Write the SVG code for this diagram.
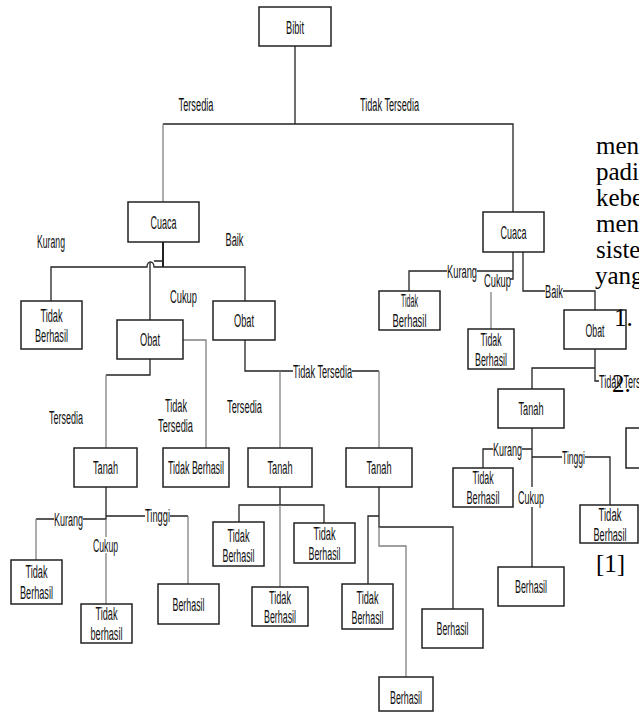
<svg xmlns="http://www.w3.org/2000/svg" width="639" height="713" viewBox="0 0 639 713">
<style>
.t{font-family:"Liberation Sans",Arial,sans-serif;font-size:18px;fill:#111;text-anchor:middle}
.st{text-anchor:start}
.sf{font-family:"Liberation Serif","Times New Roman",serif;font-size:25px;fill:#000}
.box{fill:#fff;stroke:#222;stroke-width:1.5}
.ln{fill:none;stroke:#222;stroke-width:1.3}
.gr{stroke:#808080}
</style>
<rect width="639" height="713" fill="#fff"/>
<g id="connectors">
<path class="ln" d="M295,46 V124 M163,124 H513 V212"/>
<path class="ln gr" d="M163,124 V202"/>
<path class="ln" d="M163,242 V267" style="stroke-width:2"/>
<path class="ln" d="M51,301 V267 H147 A3.5,5 0 0 1 154,267 H245 V301"/>
<path class="ln" d="M150,320 V263 M154,261 H163"/>
<path class="ln gr" d="M183,340 H206 V448"/>
<path class="ln" d="M150,359 V375 H106"/>
<path class="ln gr" d="M106,375 V448"/>
<path class="ln" d="M245,340 V371 H293 M352,371 H379"/>
<path class="ln gr" d="M379,371 V448 M280,371 V448"/>
<path class="ln" d="M106,487 V519 H83 M54,519 H36 M106,516 H145 M170,516 H188"/>
<path class="ln gr" d="M36,519 V560 M188,516 V584 M106,519 V537 M106,553 V604"/>
<path class="ln" d="M280,487 V505 M239,522 V505 H324 V523"/>
<path class="ln gr" d="M280,505 V587"/>
<path class="ln" d="M379,487 V527 H453 V609 M368,584 V516 H379"/>
<path class="ln gr" d="M379,527 V546 H406 V677"/>
<path class="ln" d="M513,252 V279 H510 M513,271 H477 M447,271 H409 V291"/>
<path class="ln gr" d="M491,292 V329"/>
<path class="ln" d="M523,252 V291 H545 M563,291 H595 V310"/>
<path class="ln" d="M595,349 V381 H599 M595,368 H532 V389"/>
<path class="ln" d="M532,428 V487 M532,449 H522 M493,449 H483 V468 M532,457 H562 M585,457 H610 V505 M532,507 V567"/>
</g>
<g id="bibit"><rect class="box" x="259" y="7" width="72" height="39"/><text class="t" x="295" y="33.5" textLength="18" lengthAdjust="spacingAndGlyphs">Bibit</text></g>
<g id="cuaca-l"><rect class="box" x="128" y="202" width="71" height="40"/><text class="t" x="163.5" y="228.5" textLength="26" lengthAdjust="spacingAndGlyphs">Cuaca</text></g>
<g id="cuaca-r"><rect class="box" x="483" y="212" width="61" height="40"/><text class="t" x="513.5" y="238.5" textLength="26" lengthAdjust="spacingAndGlyphs">Cuaca</text></g>
<g id="tb-l1"><rect class="box" x="21" y="301" width="61" height="48"/><text class="t" x="51.5" y="321.5" textLength="22" lengthAdjust="spacingAndGlyphs">Tidak</text><text class="t" x="51.5" y="341.5" textLength="33" lengthAdjust="spacingAndGlyphs">Berhasil</text></g>
<g id="obat-l"><rect class="box" x="117" y="320" width="66" height="39"/><text class="t" x="150" y="346" textLength="20" lengthAdjust="spacingAndGlyphs">Obat</text></g>
<g id="obat-m"><rect class="box" x="213" y="301" width="62" height="39"/><text class="t" x="244" y="327" textLength="20" lengthAdjust="spacingAndGlyphs">Obat</text></g>
<g id="tanah-1"><rect class="box" x="74" y="448" width="63" height="39"/><text class="t" x="105.5" y="474" textLength="25" lengthAdjust="spacingAndGlyphs">Tanah</text></g>
<g id="tb-single"><rect class="box" x="163" y="448" width="66" height="39"/><text class="t" x="196" y="474" textLength="56" lengthAdjust="spacingAndGlyphs">Tidak Berhasil</text></g>
<g id="tanah-2"><rect class="box" x="248" y="448" width="64" height="39"/><text class="t" x="280" y="474" textLength="25" lengthAdjust="spacingAndGlyphs">Tanah</text></g>
<g id="tanah-3"><rect class="box" x="346" y="448" width="66" height="39"/><text class="t" x="379" y="474" textLength="25" lengthAdjust="spacingAndGlyphs">Tanah</text></g>
<g id="tb-far"><rect class="box" x="11" y="560" width="51" height="44"/><text class="t" x="36.5" y="577.5" textLength="22" lengthAdjust="spacingAndGlyphs">Tidak</text><text class="t" x="36.5" y="598.5" textLength="33" lengthAdjust="spacingAndGlyphs">Berhasil</text></g>
<g id="tb-lower"><rect class="box" x="81" y="604" width="51" height="39"/><text class="t" x="106.5" y="619.5" textLength="22" lengthAdjust="spacingAndGlyphs">Tidak</text><text class="t" x="106.5" y="640" textLength="32" lengthAdjust="spacingAndGlyphs">berhasil</text></g>
<g id="berhasil-1"><rect class="box" x="158" y="584" width="61" height="40"/><text class="t" x="188.5" y="610.5" textLength="32" lengthAdjust="spacingAndGlyphs">Berhasil</text></g>
<g id="tb-a"><rect class="box" x="213" y="522" width="51" height="44"/><text class="t" x="238.5" y="541.5" textLength="22" lengthAdjust="spacingAndGlyphs">Tidak</text><text class="t" x="238.5" y="561.5" textLength="32" lengthAdjust="spacingAndGlyphs">Berhasil</text></g>
<g id="tb-b"><rect class="box" x="294" y="523" width="61" height="40"/><text class="t" x="324.5" y="539.5" textLength="22" lengthAdjust="spacingAndGlyphs">Tidak</text><text class="t" x="324.5" y="560" textLength="32" lengthAdjust="spacingAndGlyphs">Berhasil</text></g>
<g id="tb-c"><rect class="box" x="252" y="587" width="56" height="39"/><text class="t" x="280" y="603.5" textLength="22" lengthAdjust="spacingAndGlyphs">Tidak</text><text class="t" x="280" y="622.5" textLength="32" lengthAdjust="spacingAndGlyphs">Berhasil</text></g>
<g id="tb-d"><rect class="box" x="342" y="584" width="51" height="45"/><text class="t" x="367.5" y="603.5" textLength="22" lengthAdjust="spacingAndGlyphs">Tidak</text><text class="t" x="367.5" y="623.5" textLength="32" lengthAdjust="spacingAndGlyphs">Berhasil</text></g>
<g id="berhasil-2"><rect class="box" x="422" y="609" width="61" height="39"/><text class="t" x="452.5" y="634.5" textLength="32" lengthAdjust="spacingAndGlyphs">Berhasil</text></g>
<g id="berhasil-3"><rect class="box" x="379" y="677" width="54" height="34"/><text class="t" x="406" y="703.5" textLength="32" lengthAdjust="spacingAndGlyphs">Berhasil</text></g>
<g id="tb-r1"><rect class="box" x="379" y="291" width="61" height="39"/><text class="t" x="409.5" y="306.5" textLength="17" lengthAdjust="spacingAndGlyphs">Tidak</text><text class="t" x="409.5" y="326.5" textLength="34" lengthAdjust="spacingAndGlyphs">Berhasil</text></g>
<g id="tb-r2"><rect class="box" x="468" y="329" width="46" height="40"/><text class="t" x="491" y="345.5" textLength="21" lengthAdjust="spacingAndGlyphs">Tidak</text><text class="t" x="491" y="365.5" textLength="32" lengthAdjust="spacingAndGlyphs">Berhasil</text></g>
<g id="obat-r"><rect class="box" x="564" y="310" width="62" height="39"/><text class="t" x="595" y="336.5" textLength="19" lengthAdjust="spacingAndGlyphs">Obat</text></g>
<g id="tanah-r"><rect class="box" x="498" y="389" width="66" height="39"/><text class="t" x="531" y="414.5" textLength="25" lengthAdjust="spacingAndGlyphs">Tanah</text></g>
<g id="tb-r3"><rect class="box" x="453" y="468" width="60" height="39"/><text class="t" x="483" y="483.5" textLength="21" lengthAdjust="spacingAndGlyphs">Tidak</text><text class="t" x="483" y="504" textLength="33" lengthAdjust="spacingAndGlyphs">Berhasil</text></g>
<g id="berhasil-r"><rect class="box" x="498" y="567" width="66" height="39"/><text class="t" x="531" y="592.5" textLength="32" lengthAdjust="spacingAndGlyphs">Berhasil</text></g>
<g id="tb-r4"><rect class="box" x="580" y="505" width="58" height="38"/><text class="t" x="610" y="520.5" textLength="23" lengthAdjust="spacingAndGlyphs">Tidak</text><text class="t" x="610" y="540.5" textLength="33" lengthAdjust="spacingAndGlyphs">Berhasil</text></g>
<g id="partial-box"><rect class="box" x="626" y="428" width="60" height="40"/></g>
<g id="labels">
<text class="t" x="196" y="110.5" textLength="35" lengthAdjust="spacingAndGlyphs">Tersedia</text>
<text class="t" x="389.5" y="110.5" textLength="59" lengthAdjust="spacingAndGlyphs">Tidak Tersedia</text>
<text class="t" x="51" y="247.5" textLength="28" lengthAdjust="spacingAndGlyphs">Kurang</text>
<text class="t" x="234.5" y="245.5" textLength="18" lengthAdjust="spacingAndGlyphs">Baik</text>
<text class="t" x="183.5" y="302.5" textLength="27" lengthAdjust="spacingAndGlyphs">Cukup</text>
<text class="t" x="66" y="423.5" textLength="34" lengthAdjust="spacingAndGlyphs">Tersedia</text>
<text class="t" x="176" y="411.5" textLength="22" lengthAdjust="spacingAndGlyphs">Tidak</text>
<text class="t" x="175.5" y="431.5" textLength="35" lengthAdjust="spacingAndGlyphs">Tersedia</text>
<text class="t" x="244.5" y="412.5" textLength="35" lengthAdjust="spacingAndGlyphs">Tersedia</text>
<text class="t" x="322.5" y="377.5" textLength="59" lengthAdjust="spacingAndGlyphs">Tidak Tersedia</text>
<text class="t" x="68.5" y="525.5" textLength="29" lengthAdjust="spacingAndGlyphs">Kurang</text>
<text class="t" x="157.5" y="521.5" textLength="25" lengthAdjust="spacingAndGlyphs">Tinggi</text>
<text class="t" x="105.5" y="551.5" textLength="25" lengthAdjust="spacingAndGlyphs">Cukup</text>
<text class="t" x="462" y="277.5" textLength="30" lengthAdjust="spacingAndGlyphs">Kurang</text>
<text class="t" x="497.5" y="286.5" textLength="27" lengthAdjust="spacingAndGlyphs">Cukup</text>
<text class="t" x="554" y="297.5" textLength="18" lengthAdjust="spacingAndGlyphs">Baik</text>
<text class="t st" x="599" y="387.5" textLength="59" lengthAdjust="spacingAndGlyphs">Tidak Tersedia</text>
<text class="t" x="507.5" y="455.5" textLength="29" lengthAdjust="spacingAndGlyphs">Kurang</text>
<text class="t" x="573.5" y="463.5" textLength="23" lengthAdjust="spacingAndGlyphs">Tinggi</text>
<text class="t" x="531" y="503.5" textLength="26" lengthAdjust="spacingAndGlyphs">Cukup</text>
</g>
<g id="page-text">
<text class="sf" x="596" y="154">men</text>
<text class="sf" x="596" y="180">padi</text>
<text class="sf" x="596" y="206">kebe</text>
<text class="sf" x="596" y="232">men</text>
<text class="sf" x="596" y="258">siste</text>
<text class="sf" x="595" y="284">yang</text>
<text class="sf" x="614" y="326">1.</text>
<text class="sf" x="612" y="392">2.</text>
<text class="sf" x="596" y="572">[1]</text>
</g>
</svg>
